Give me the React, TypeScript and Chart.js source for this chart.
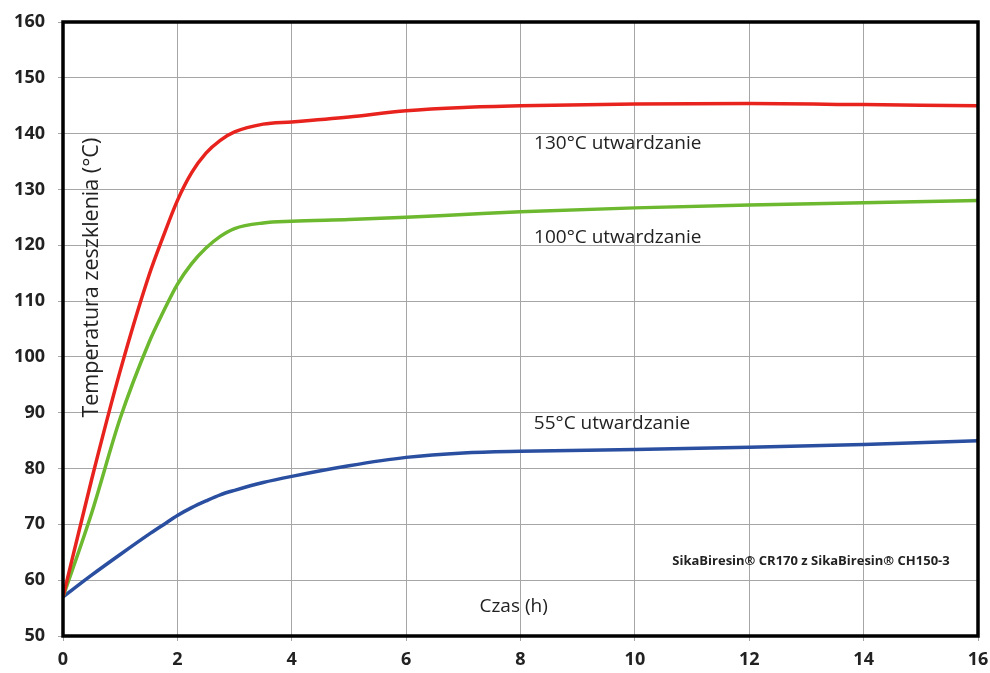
import React, { useEffect, useRef } from "react";
import { Chart, registerables } from "chart.js";

Chart.register(...registerables);

const hours = [0, 0.5, 1, 1.5, 1.75, 2, 2.25, 2.5, 2.75, 3, 3.5, 4, 5, 6, 7, 8, 10, 12, 14, 16];
const cure130 = [57, 78, 97.5, 114.5, 121.5, 128, 133, 136.5, 138.8, 140.3, 141.7, 142.1, 143, 144.1, 144.7, 145, 145.3, 145.4, 145.2, 145];
const cure100 = [57, 72, 89, 102.5, 108, 113, 116.7, 119.5, 121.6, 123, 124, 124.3, 124.6, 125, 125.5, 126, 126.7, 127.2, 127.6, 128];
const cure55 = [57, 60.9, 64.6, 68.2, 69.9, 71.6, 73, 74.2, 75.3, 76.1, 77.5, 78.6, 80.5, 82, 82.8, 83.1, 83.4, 83.8, 84.3, 85];

const seriesLabels = ["130°C utwardzanie", "100°C utwardzanie", "55°C utwardzanie"];
const seriesColors = ["#e8231e", "#6cb82e", "#2a4fa0"];
const xTicks = [0, 2, 4, 6, 8, 10, 12, 14, 16];
const yTicks = [50, 60, 70, 80, 90, 100, 110, 120, 130, 140, 150, 160];

const FONT = "'Open Sans', 'DejaVu Sans', sans-serif";
const TEXT = "#222222";

const annotations = [
  { text: seriesLabels[0], x: 9.7, y: 138.3, size: 19, weight: "normal" },
  { text: seriesLabels[1], x: 9.7, y: 121.3, size: 19, weight: "normal" },
  { text: seriesLabels[2], x: 9.6, y: 88.1, size: 19, weight: "normal" },
  { text: "SikaBiresin® CR170 z SikaBiresin® CH150-3", x: 13.08, y: 63.4, size: 13, weight: "bold" },
  { text: "Czas (h)", x: 7.88, y: 55.3, size: 19, weight: "normal" },
];

const overlayPlugin = {
  id: "overlay",
  afterDraw(chart: any) {
    const { ctx, chartArea, scales } = chart;
    ctx.save();
    ctx.strokeStyle = "#000";
    ctx.lineWidth = 3.5;
    ctx.strokeRect(chartArea.left, chartArea.top, chartArea.right - chartArea.left, chartArea.bottom - chartArea.top);
    ctx.fillStyle = TEXT;
    ctx.textAlign = "center";
    ctx.textBaseline = "middle";
    for (const a of annotations) {
      ctx.font = `${a.weight} ${a.size}px ${FONT}`;
      ctx.fillText(a.text, scales.x.getPixelForValue(a.x), scales.y.getPixelForValue(a.y));
    }
    ctx.translate(scales.x.getPixelForValue(0.5), scales.y.getPixelForValue(114.2));
    ctx.rotate(-Math.PI / 2);
    ctx.font = `normal 21.5px ${FONT}`;
    ctx.fillText("Temperatura zeszklenia (°C)", 0, 0);
    ctx.restore();
  },
};

export default function App() {
  const ref = useRef<HTMLCanvasElement>(null);
  useEffect(() => {
    document.body.style.margin = "0";
    const series = [cure130, cure100, cure55];
    const chart = new Chart(ref.current as HTMLCanvasElement, {
      type: "line",
      data: {
        datasets: series.map((vals, i) => ({
          label: seriesLabels[i],
          data: hours.map((h, j) => ({ x: h, y: vals[j] })),
          borderColor: seriesColors[i],
          borderWidth: 3.5,
          pointRadius: 0,
          cubicInterpolationMode: "monotone" as const,
          fill: false,
        })),
      },
      options: {
        animation: false,
        responsive: false,
        layout: { padding: { top: 22, right: 2, left: 0, bottom: 0 } },
        plugins: { legend: { display: false }, tooltip: { enabled: false } },
        scales: {
          x: {
            type: "linear",
            min: 0,
            max: 16,
            afterBuildTicks: (s: any) => {
              s.ticks = xTicks.map((v) => ({ value: v }));
            },
            afterFit: (s: any) => {
              s.height = 37;
              s.paddingRight = 12;
              s.paddingLeft = 0;
            },
            ticks: { color: TEXT, font: { family: FONT, size: 18, weight: "bold" }, padding: 8, maxRotation: 0 },
            grid: { color: "#a6a6a6", lineWidth: 1, tickLength: 5 },
            border: { display: false },
          },
          y: {
            type: "linear",
            min: 50,
            max: 160,
            afterBuildTicks: (s: any) => {
              s.ticks = yTicks.map((v) => ({ value: v }));
            },
            afterFit: (s: any) => {
              s.width = 63;
              s.paddingTop = 0;
              s.paddingBottom = 0;
            },
            ticks: { color: TEXT, font: { family: FONT, size: 18, weight: "bold" }, padding: 13 },
            grid: { color: "#a6a6a6", lineWidth: 1, tickLength: 5 },
            border: { display: false },
          },
        },
      },
      plugins: [overlayPlugin],
    });
    return () => chart.destroy();
  }, []);
  return (
    <div style={{ width: 990, height: 673, background: "#fff" }}>
      <canvas ref={ref} width={990} height={673} style={{ display: "block" }} />
    </div>
  );
}
